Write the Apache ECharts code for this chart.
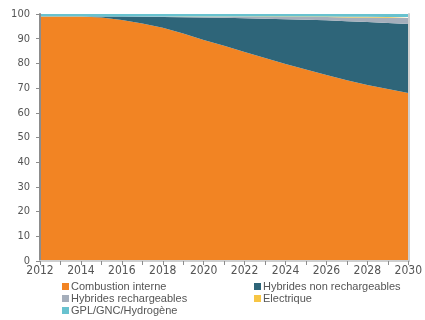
<!DOCTYPE html>
<html>
<head>
<meta charset="utf-8">
<script src="https://cdn.jsdelivr.net/npm/echarts@6/dist/echarts.min.js"></script>
<style>
  html, body { margin: 0; padding: 0; background: #fff; }
  #chart { width: 425px; height: 320px; }
</style>
</head>
<body>
<div id="chart"></div>
<script>
// Parc de véhicules par motorisation (%), 2012-2030
const years = ['2012','2013','2014','2015','2016','2017','2018','2019','2020','2021',
               '2022','2023','2024','2025','2026','2027','2028','2029','2030'];
const combustion = [99, 99, 99, 98.6, 97.6, 96.2, 94.4, 92.1, 89.5, 87.1,
                    84.6, 82.2, 79.8, 77.5, 75.3, 73.2, 71.3, 69.6, 68];
const hybridesNonRech = [0, 0, 0, 0.4, 1.35, 2.65, 4.4, 6.6, 9.1, 11.35,
                         13.7, 15.9, 18.1, 20.15, 22.15, 23.9, 25.5, 26.75, 28.0];
const hybridesRech = [0, 0, 0, 0, 0.05, 0.1, 0.15, 0.2, 0.3, 0.4,
                      0.55, 0.7, 0.9, 1.1, 1.3, 1.5, 1.8, 2.1, 2.4];
const electrique = [0, 0, 0, 0, 0, 0.05, 0.05, 0.1, 0.1, 0.15,
                    0.15, 0.2, 0.2, 0.25, 0.25, 0.3, 0.3, 0.35, 0.4];
const gpl = [1, 1, 1, 1, 1, 1, 1, 1, 1, 1,
             1, 1, 1, 1, 1, 1.1, 1.1, 1.2, 1.2];

const names = ['Combustion interne', 'Hybrides non rechargeables', 'Hybrides rechargeables',
               'Electrique', 'GPL/GNC/Hydrogène'];
const colors = ['#F28423', '#2E6579', '#A5AEBB', '#F7C544', '#68C2CF'];
const values = [combustion, hybridesNonRech, hybridesRech, electrique, gpl];

const font = 'Liberation Sans, Arial, sans-serif';
const narrow = '"Liberation Sans Narrow", "DejaVu Sans Condensed", sans-serif';
const textColor = '#555';

const chart = echarts.init(document.getElementById('chart'), null, { renderer: 'canvas' });

const series = names.map((n, i) => ({
  name: n,
  type: 'line',
  stack: 'total',
  data: values[i],
  symbol: 'none',
  lineStyle: { width: 0 },
  itemStyle: { color: colors[i] },
  areaStyle: { color: colors[i], opacity: 1 },
  z: 2
}));

// legend: two columns, three rows
const legendPos = [
  { left: 62, top: 281 },
  { left: 254, top: 281 },
  { left: 62, top: 293 },
  { left: 254, top: 293 },
  { left: 62, top: 305 }
];
const legends = names.map((n, i) => ({
  data: [n],
  left: legendPos[i].left,
  top: legendPos[i].top,
  itemWidth: 7,
  itemHeight: 7,
  itemGap: 0,
  padding: 0,
  icon: 'rect',
  selectedMode: false,
  textStyle: { fontFamily: font, fontSize: 11, color: textColor, padding: [0, 0, 0, -3] }
}));

chart.setOption({
  animation: false,
  backgroundColor: '#fff',
  grid: { left: 40, right: 10, top: 14, bottom: 59 },
  legend: legends,
  xAxis: [
    {
      type: 'category',
      data: years,
      boundaryGap: false,
      axisLine: { show: true, lineStyle: { color: '#8c8c8c', width: 2 } },
      axisTick: { show: true, interval: 0, length: 4, lineStyle: { color: '#8c8c8c' } },
      axisLabel: { interval: 1, color: textColor, fontFamily: narrow, fontSize: 12, margin: 4 },
      splitLine: { show: false },
      z: 5
    },
    {
      type: 'category',
      data: years,
      boundaryGap: false,
      position: 'top',
      axisLine: { show: true, lineStyle: { color: '#cfcfcf', width: 2 } },
      axisTick: { show: false },
      axisLabel: { show: false },
      z: 5
    }
  ],
  yAxis: [
    {
      type: 'value',
      min: 0,
      max: 100,
      interval: 10,
      axisLine: { show: true, lineStyle: { color: '#8c8c8c', width: 2 } },
      axisTick: { show: true, length: 4, lineStyle: { color: '#8c8c8c' } },
      axisLabel: { color: textColor, fontFamily: narrow, fontSize: 11, margin: 10 },
      splitLine: { show: false },
      z: 5
    },
    {
      type: 'value',
      min: 0,
      max: 100,
      interval: 10,
      position: 'right',
      axisLine: { show: true, lineStyle: { color: '#cfcfcf', width: 2 } },
      axisTick: { show: false },
      axisLabel: { show: false },
      splitLine: { show: false },
      z: 5
    }
  ],
  series: series
});
</script>
</body>
</html>
